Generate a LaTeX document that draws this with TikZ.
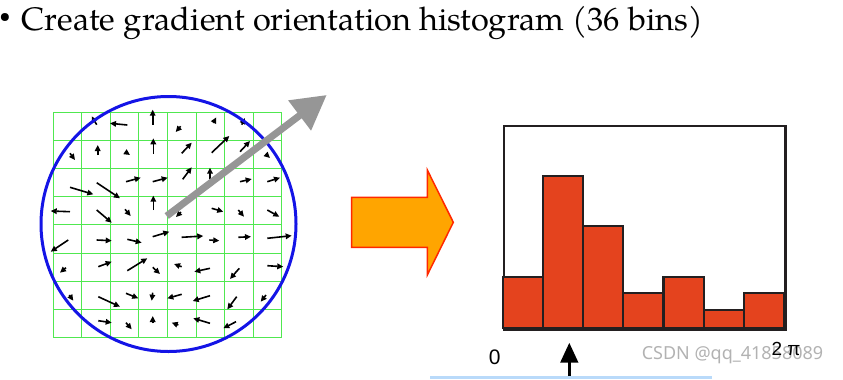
\documentclass[tikz,border=0pt]{standalone}
\usepackage{fontspec}
\setmainfont{TeX Gyre Pagella}
\newfontfamily\labelfont{Liberation Sans}
\newfontfamily\markfont{Noto Sans}
\definecolor{gridgreen}{RGB}{80,232,80}
\definecolor{ringblue}{RGB}{20,20,230}
\definecolor{shaftgray}{RGB}{150,150,150}
\definecolor{barred}{RGB}{228,67,30}
\definecolor{framedark}{RGB}{35,31,32}
\definecolor{fatorange}{RGB}{255,165,0}
\definecolor{fatred}{RGB}{255,40,0}
\definecolor{lineblue}{RGB}{185,218,250}
\usetikzlibrary{arrows.meta,positioning}

\begin{document}
\begin{tikzpicture}[x=1pt,y=-1pt,
  grad/.style={line width=1.6pt,-{Triangle[length=6pt,width=5.5pt]}},
  bin/.style={fill=barred,draw=framedark,line width=2.2pt},
  axislabel/.style={font=\labelfont\fontsize{21}{22}\selectfont,inner sep=0}]
  \useasboundingbox (0,0) rectangle (843,380);
  % title
  \node[anchor=base west,inner sep=0,font=\fontsize{32.5}{38}\selectfont] (title) at (21.5,30) {Create gradient orientation histogram (36 bins)};
  \node[inner sep=0,font=\fontsize{20}{20}\selectfont] (dot) at (5,18.5) {•};
  % sample grid and window
  \foreach \i in {0,...,8} {
    \draw[gridgreen,line width=1pt] (53+\i*28.6,112) -- (53+\i*28.6,338);
    \draw[gridgreen,line width=1pt] (53,112+\i*28.2) -- (282,112+\i*28.2);
  }
  \foreach \xa/\ya/\xb/\yb in {
    96.7/124.7/91.7/116.3, 127.3/125/110/123.3, 152.7/124.7/152.7/109.7,
    180.7/126.3/175.7/132, 213.3/123/216.3/117.3, 241.7/124.7/245/118,
    70/153.3/75/160, 97.7/155/97.7/145, 125/151.7/130/155,
    153.3/154/153.3/138.3, 181.7/153.3/191.7/142.7, 211.7/152.7/229.3/136,
    240/151.7/250/141, 265.7/154/270/158,
    70/187.3/93.3/194.3, 96.7/182.7/120/198.3, 126/181.7/140.7/177.7,
    152.7/181.7/167.7/177.7, 182.7/179.3/191.7/167.3, 210/179.3/210/167.7,
    240/181.7/251.7/179, 267.3/181.7/280/177.7,
    70/211.7/50.7/211, 96.7/210/111.7/222.7, 125/209.3/130.7/216,
    153.3/210/153.3/195.7, 181/212/176/217, 211.7/208.3/223.3/211.7,
    238.3/210/244/216.7, 267.3/210/279.3/216.7,
    68.3/240/50.7/251.7, 96.7/240/111.7/240.7, 127.3/239.3/141.7/242.7,
    152.7/236.7/169.3/231.7, 181.7/237.3/203.3/236, 209.3/240/219.3/240.7,
    238.3/237.3/251/236.7, 267.3/238.3/291.7/235.7,
    66/267.7/60/272.7, 98.3/266.7/111.7/261.7, 127.3/270.7/147.3/258.3,
    152.7/267.3/160/274, 181.7/266.7/174/264, 210/268.3/194.3/271.7,
    239.3/268.3/230/279, 267.3/265.7/283.3/266.7,
    69.3/295/73.3/300.7, 98.3/296.7/120/306.7, 126/293.3/138.3/298.3,
    152.7/292.7/151.7/300.7, 181.7/294.3/167.3/298.3, 210/295.7/192.7/301,
    236.7/296.7/227.3/309.3, 266/295/260.7/301.7,
    98.3/320.7/111.7/322.7, 126/322.7/131.7/329.3, 152.7/323.3/152.7/316,
    178.3/325/171.7/322.7, 210/323.3/193.3/318.3, 236/321.7/223.3/328.3}
    \draw[grad] (\xa,\ya) -- (\xb,\yb);
  \node[draw=ringblue,line width=3pt,circle,minimum size=255pt,inner sep=0] (window) at (168.5,224) {};
  % dominant orientation
  \coordinate (foot) at (166.7,216);
  \coordinate (tip) at (326.7,95);
  \draw[shaftgray,line width=7pt,-{Triangle[length=34pt,width=36pt]}] (foot) -- (tip);
  % big arrow
  \draw[fill=fatorange,draw=fatred,line width=1.5pt] (351.7,197.3) -- (427.3,197.3) -- (427.3,170) -- (453.3,222.3) -- (427.3,275) -- (427.3,247.3) -- (351.7,247.3) -- cycle;
  % histogram
  \node[draw=framedark,line width=2.2pt,minimum width=281.6pt,minimum height=203.3pt,inner sep=0,anchor=north west] (hist) at (502.7,125) {};
  \foreach \top [count=\k from 0] in {276.7,175.7,226,293.3,276.7,310,293.3}
    \draw[bin] (502.7+\k*40.2,328.3) rectangle ++(40.2,\top-328.3);
  \node[text=gray!60,font=\markfont\fontsize{18}{20}\selectfont,inner sep=0] (mark) at (732.5,355) {CSDN @qq\_41858089};
  \node[axislabel] (zero) at (494.7,357) {0};
  \node[axislabel,font=\labelfont\fontsize{19}{20}\selectfont] (twopi) at (786,349) {2 π};
  \coordinate (peakfoot) at (569.3,376);
  \coordinate (peaktip) at (569.3,342.7);
  \draw[lineblue,line width=3pt] (430,377.5) -- (712,377.5);
  \draw[line width=3.2pt,-{Triangle[length=20pt,width=17.5pt]}] (peakfoot) -- (peaktip);
\end{tikzpicture}
\end{document}
